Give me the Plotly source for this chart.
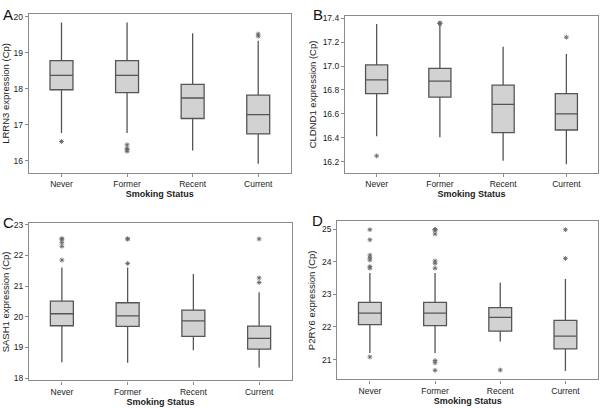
import plotly.graph_objects as go

categories = ["Never", "Former", "Recent", "Current"]

# Panel A: LRRN3
a_q1 = [17.97, 17.89, 17.17, 16.74]
a_med = [18.37, 18.37, 17.74, 17.28]
a_q3 = [18.78, 18.78, 18.12, 17.82]
a_lo = [16.77, 16.77, 16.28, 15.91]
a_hi = [19.84, 19.84, 19.54, 19.33]
a_out_x = ["Never", "Former", "Former", "Former", "Former", "Current", "Current"]
a_out_y = [16.53, 16.44, 16.34, 16.30, 16.26, 19.52, 19.46]

# Panel B: CLDND1
b_q1 = [16.77, 16.74, 16.445, 16.466]
b_med = [16.885, 16.874, 16.68, 16.60]
b_q3 = [17.01, 16.98, 16.84, 16.77]
b_lo = [16.414, 16.405, 16.21, 16.18]
b_hi = [17.35, 17.34, 17.16, 17.10]
b_out_x = ["Never", "Former", "Former", "Former", "Current"]
b_out_y = [16.25, 17.356, 17.356, 17.356, 17.24]

# Panel C: SASH1
c_q1 = [19.71, 19.69, 19.36, 18.95]
c_med = [20.10, 20.03, 19.87, 19.30]
c_q3 = [20.51, 20.46, 20.22, 19.70]
c_lo = [18.52, 18.50, 18.91, 18.35]
c_hi = [21.61, 21.61, 21.40, 20.80]
c_out_x = ["Never", "Never", "Never", "Never", "Never", "Former", "Former", "Former",
           "Current", "Current", "Current"]
c_out_y = [22.55, 22.53, 22.42, 22.30, 21.85, 22.54, 22.54, 21.74,
           22.54, 21.27, 21.12]

# Panel D: P2RY6
d_q1 = [22.07, 22.04, 21.87, 21.33]
d_med = [22.42, 22.42, 22.29, 21.72]
d_q3 = [22.75, 22.75, 22.59, 22.20]
d_lo = [21.20, 21.20, 21.55, 20.65]
d_hi = [23.65, 23.65, 23.35, 23.47]
d_out_x = ["Never", "Never", "Never", "Never", "Never", "Never", "Never", "Never",
           "Former", "Former", "Former", "Former", "Former", "Former", "Former",
           "Former", "Former", "Former", "Recent", "Current", "Current"]
d_out_y = [24.98, 24.67, 24.20, 24.12, 24.05, 23.85, 23.80, 21.08,
           24.98, 24.98, 24.98, 24.85, 24.02, 23.95, 23.80, 20.97, 20.90,
           20.67, 20.68, 24.98, 24.10]

panels = [
    ("x", "y", a_q1, a_med, a_q3, a_lo, a_hi, a_out_x, a_out_y),
    ("x2", "y2", b_q1, b_med, b_q3, b_lo, b_hi, b_out_x, b_out_y),
    ("x3", "y3", c_q1, c_med, c_q3, c_lo, c_hi, c_out_x, c_out_y),
    ("x4", "y4", d_q1, d_med, d_q3, d_lo, d_hi, d_out_x, d_out_y),
]

fig = go.Figure()
for xa, ya, q1, med, q3, lo, hi, ox, oy in panels:
    fig.add_trace(go.Box(
        x=categories, q1=q1, median=med, q3=q3, lowerfence=lo, upperfence=hi,
        xaxis=xa, yaxis=ya, width=0.35, whiskerwidth=0, boxpoints=False,
        fillcolor="#d2d2d2", line=dict(color="#555555", width=1.3),
        showlegend=False, hoverinfo="skip"))
    fig.add_trace(go.Scatter(
        x=ox, y=oy, xaxis=xa, yaxis=ya, mode="markers",
        marker=dict(symbol="asterisk-open", size=4, color="#666666",
                    line=dict(color="#666666", width=0.9)),
        showlegend=False, hoverinfo="skip"))

font = "Liberation Sans, Arial, sans-serif"
axis_common = dict(showline=True, mirror=True, linecolor="#8a8a8a", linewidth=1.2,
                   ticks="outside", ticklen=3, tickcolor="#8a8a8a", showgrid=False,
                   zeroline=False, tickfont=dict(size=8.5, color="#222"))
xcommon = dict(axis_common, type="category", categoryorder="array",
               categoryarray=categories, range=[-0.5, 3.5],
               title=dict(text="<b>Smoking Status</b>", font=dict(size=9, color="#222"),
                          standoff=2))

W, H = 600, 408
def xd(l, r):
    return [l / W, r / W]
def yd(t, b):
    return [1 - b / H, 1 - t / H]

fig.update_layout(
    width=W, height=H, margin=dict(l=0, r=0, t=0, b=0),
    paper_bgcolor="white", plot_bgcolor="white",
    font=dict(family=font, color="#222"),
    xaxis=dict(xcommon, domain=xd(28.7, 291), anchor="y"),
    yaxis=dict(axis_common, domain=yd(10, 172), anchor="x", range=[15.653, 20.082],
               tickvals=[16, 17, 18, 19, 20],
               title=dict(text="LRRN3 expression (Cp)", font=dict(size=9.5), standoff=4)),
    xaxis2=dict(xcommon, domain=xd(345, 598), anchor="y2"),
    yaxis2=dict(axis_common, domain=yd(12, 172), anchor="x2", range=[16.107, 17.419],
                tickvals=[16.2, 16.4, 16.6, 16.8, 17.0, 17.2, 17.4], tickformat=".1f",
                title=dict(text="CLDND1 expression (Cp)", font=dict(size=9.5), standoff=4)),
    xaxis3=dict(xcommon, domain=xd(29, 292), anchor="y3"),
    yaxis3=dict(axis_common, domain=yd(223.3, 383), anchor="x3", range=[17.926, 23.045],
                tickvals=[18, 19, 20, 21, 22, 23],
                title=dict(text="SASH1 expression (Cp)", font=dict(size=9.5), standoff=4)),
    xaxis4=dict(xcommon, domain=xd(337.3, 598), anchor="y4"),
    yaxis4=dict(axis_common, domain=yd(221, 382), anchor="x4", range=[20.39, 25.24],
                tickvals=[21, 22, 23, 24, 25],
                title=dict(text="P2RY6 expression (Cp)", font=dict(size=9.5), standoff=4)),
    annotations=[
        dict(text="A", x=1 / W, y=1 - 0 / H, xref="paper", yref="paper",
             xanchor="left", yanchor="top", showarrow=False, font=dict(size=15, color="#111")),
        dict(text="B", x=311 / W, y=1 - 0 / H, xref="paper", yref="paper",
             xanchor="left", yanchor="top", showarrow=False, font=dict(size=15, color="#111")),
        dict(text="C", x=1 / W, y=1 - 212 / H, xref="paper", yref="paper",
             xanchor="left", yanchor="top", showarrow=False, font=dict(size=15, color="#111")),
        dict(text="D", x=310 / W, y=1 - 210 / H, xref="paper", yref="paper",
             xanchor="left", yanchor="top", showarrow=False, font=dict(size=15, color="#111")),
    ],
)

fig.write_html("out.html", config={"displayModeBar": False},
               post_script="document.body.style.margin='0';document.body.style.overflow='hidden';")
